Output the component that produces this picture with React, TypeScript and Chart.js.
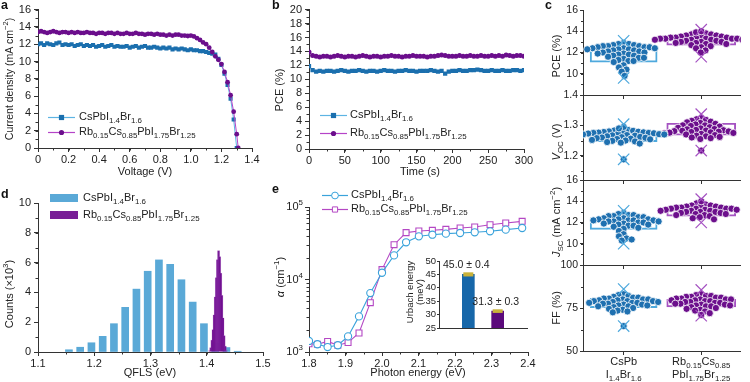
import React, { useEffect, useRef } from 'react';
import { Chart, registerables } from 'chart.js';
Chart.register(...registerables);

const FONT = '"Liberation Sans", Arial, Helvetica, sans-serif';
const AX = '#333';
const TXT = '#222';

const CS_MARK = '#1b6fae';
const CS_LINE = '#5db4e3';
const RB_MARK = '#6b0e8c';
const RB_LINE = '#b544c8';
const E_CS = '#3aa3db';
const E_RB = '#b448c4';
const C_CS_DOT = '#1f70b0';
const C_CS_BOX = '#4ea9dd';
const C_RB_DOT = '#6c0f8c';
const C_RB_BOX = '#a553c2';
const D_CS = '#5aa9d7';
const D_RB = 'rgba(110,11,142,0.92)';
const I_CS = '#1767a9';
const I_RB = '#5b0a7b';
const ERR = '#c9b23a';

const LBL_CS = 'CsPbI_{1.4}Br_{1.6}';
const LBL_RB = 'Rb_{0.15}Cs_{0.85}PbI_{1.75}Br_{1.25}';

// ---------- panel a : J-V ----------
const jvVoltCs = [0, 0.02, 0.04, 0.06, 0.08, 0.1, 0.12, 0.14, 0.16, 0.18, 0.2, 0.22, 0.24, 0.26, 0.28, 0.3, 0.32, 0.34, 0.36, 0.38, 0.4, 0.42, 0.44, 0.46, 0.48, 0.5, 0.52, 0.54, 0.56, 0.58, 0.6, 0.62, 0.64, 0.66, 0.68, 0.7, 0.72, 0.74, 0.76, 0.78, 0.8, 0.82, 0.84, 0.86, 0.88, 0.9, 0.92, 0.94, 0.96, 0.98, 1.0, 1.02, 1.04, 1.06, 1.08, 1.1, 1.12, 1.14, 1.16, 1.18, 1.2, 1.22, 1.24, 1.26, 1.28, 1.3];
const jvCurrCs = [12.0, 12.1, 11.9, 12.1, 12.0, 11.9, 12.1, 12.2, 11.9, 12.0,
  11.9, 12.0, 11.8, 11.9, 12.0, 11.8, 11.9, 11.8, 11.9, 11.7,
  11.8, 11.9, 11.7, 11.8, 11.9, 11.7, 11.8, 11.7, 11.7, 11.8,
  11.6, 11.7, 11.8, 11.6, 11.7, 11.8, 11.6, 11.6, 11.7, 11.6,
  11.5, 11.6, 11.5, 11.6, 11.4, 11.5, 11.4, 11.5, 11.4, 11.3,
  11.4, 11.3, 11.3, 11.2, 11.2, 11.1, 11.0, 10.9, 10.8, 10.3,
  9.6, 8.6, 7.3, 5.7, 3.3, 0.0];
const jvVoltRb = [0, 0.02, 0.04, 0.06, 0.08, 0.1, 0.12, 0.14, 0.16, 0.18, 0.2, 0.22, 0.24, 0.26, 0.28, 0.3, 0.32, 0.34, 0.36, 0.38, 0.4, 0.42, 0.44, 0.46, 0.48, 0.5, 0.52, 0.54, 0.56, 0.58, 0.6, 0.62, 0.64, 0.66, 0.68, 0.7, 0.72, 0.74, 0.76, 0.78, 0.8, 0.82, 0.84, 0.86, 0.88, 0.9, 0.92, 0.94, 0.96, 0.98, 1.0, 1.02, 1.04, 1.06, 1.08, 1.1, 1.12, 1.14, 1.16, 1.18, 1.2, 1.22, 1.24, 1.26, 1.28, 1.3, 1.31];
const jvCurrRb = [13.4, 13.5, 13.4, 13.3, 13.4, 13.5, 13.4, 13.3, 13.4, 13.4,
  13.3, 13.4, 13.3, 13.4, 13.3, 13.3, 13.4, 13.3, 13.3, 13.2,
  13.3, 13.3, 13.2, 13.3, 13.3, 13.2, 13.3, 13.2, 13.2, 13.3,
  13.2, 13.2, 13.3, 13.2, 13.2, 13.1, 13.2, 13.2, 13.1, 13.2,
  13.1, 13.1, 13.0, 13.1, 13.0, 13.1, 13.1, 13.0, 13.0, 12.95,
  13.0, 12.9, 12.7, 12.5, 12.2, 12.0, 11.6, 11.1, 10.6, 10.2,
  9.7, 8.8, 7.6, 6.1, 4.2, 1.6, 0.0];
const aXTicks = [0, 0.2, 0.4, 0.6, 0.8, 1.0, 1.2, 1.4];
const aYTicks = [0, 2, 4, 6, 8, 10, 12, 14, 16];

// ---------- panel b : stabilised PCE ----------
const timeS = [0, 5, 10, 15, 20, 25, 30, 35, 40, 45, 50, 55, 60, 65, 70, 75, 80, 85, 90, 95, 100, 105, 110, 115, 120, 125, 130, 135, 140, 145, 150, 155, 160, 165, 170, 175, 180, 185, 190, 195, 200, 205, 210, 215, 220, 225, 230, 235, 240, 245, 250, 255, 260, 265, 270, 275, 280, 285, 290, 295, 300];
const spoCs = [11.9, 11.3, 11.1, 11.2, 11.1, 11.2, 11.2, 11.1, 11.2, 11.3,
  11.2, 11.1, 11.2, 11.2, 11.3, 11.2, 11.1, 11.2, 11.2, 11.1,
  11.2, 11.3, 11.2, 11.2, 11.1, 11.2, 11.2, 11.3, 11.2, 11.2,
  11.1, 11.2, 11.2, 11.2, 11.3, 11.2, 11.1, 11.2, 10.8, 11.1,
  11.2, 11.2, 11.3, 11.2, 11.2, 11.3, 11.3, 11.4, 11.3, 11.2,
  11.2, 11.3, 11.2, 11.2, 11.3, 11.2, 11.2, 11.3, 11.3, 11.2,
  11.3];
const spoRb = [13.9, 13.4, 13.3, 13.2, 13.3, 13.3, 13.2, 13.3, 13.4, 13.3,
  13.2, 13.3, 13.3, 13.2, 13.3, 13.4, 13.3, 13.2, 13.3, 13.3,
  13.2, 13.3, 13.3, 13.4, 13.3, 13.3, 13.2, 13.3, 13.3, 13.4,
  13.3, 13.3, 13.3, 13.2, 13.3, 13.3, 13.4, 13.5, 13.4, 13.3,
  13.3, 13.3, 13.4, 13.3, 13.3, 13.4, 13.3, 13.3, 13.4, 13.3,
  13.3, 13.4, 13.3, 13.4, 13.3, 13.5, 13.4, 13.3, 13.4, 13.4,
  13.3];
const bXTicks = [0, 50, 100, 150, 200, 250, 300];
const bYTicks = [0, 2, 4, 6, 8, 10, 12, 14, 16, 18, 20];

// ---------- panel c : device statistics ----------
const cCats = ['CsPbI1.4Br1.6', 'Rb0.15Cs0.85PbI1.75Br1.25'];
const pceCs = [12.9, 12.8, 12.8, 12.7, 12.7, 12.6, 12.6, 12.6, 12.5, 12.5, 12.5, 12.4, 12.4, 12.4, 12.3, 12.3, 12.3, 12.2, 12.2, 12.1, 12.1, 12.0, 12.0, 11.9, 11.9, 11.8, 11.8, 11.7, 11.7, 11.6, 11.5, 11.5, 11.4, 11.3, 11.2, 11.2, 11.1, 10.8, 10.6, 10.4, 10.2, 9.8];
const pceRb = [13.8, 13.7, 13.7, 13.6, 13.6, 13.5, 13.5, 13.5, 13.4, 13.4, 13.4, 13.4, 13.3, 13.3, 13.3, 13.3, 13.3, 13.2, 13.2, 13.2, 13.2, 13.1, 13.1, 13.1, 13.0, 13.0, 13.0, 12.9, 12.9, 12.8, 12.8, 12.7, 12.6, 12.5, 12.4, 12.2, 12.0, 13.9, 14.0];
const pceBoxCs = [11.1, 12.6];
const pceBoxRb = [12.7, 13.5];
const pceExtCs = [9.6, 13.1];
const pceExtRb = [11.6, 14.15];

const vocCs = [1.285, 1.283, 1.282, 1.28, 1.279, 1.278, 1.278, 1.277, 1.276, 1.275, 1.275, 1.274, 1.273, 1.272, 1.271, 1.27, 1.27, 1.268, 1.267, 1.266, 1.265, 1.264, 1.262, 1.261, 1.26, 1.259, 1.258, 1.256, 1.255, 1.254, 1.252, 1.25, 1.249, 1.247, 1.245, 1.243, 1.24, 1.295, 1.29, 1.188];
const vocRb = [1.325, 1.32, 1.318, 1.315, 1.312, 1.31, 1.308, 1.305, 1.303, 1.3, 1.3, 1.298, 1.296, 1.294, 1.292, 1.29, 1.288, 1.287, 1.285, 1.284, 1.283, 1.282, 1.281, 1.28, 1.279, 1.278, 1.277, 1.276, 1.275, 1.274, 1.272, 1.27, 1.268, 1.266, 1.264, 1.262, 1.26, 1.258, 1.255, 1.217];
const vocBoxCs = [1.246, 1.281];
const vocBoxRb = [1.268, 1.307];
const vocExtCs = [1.188, 1.304];
const vocExtRb = [1.217, 1.337];

const jscCs = [12.9, 12.8, 12.7, 12.7, 12.6, 12.6, 12.5, 12.5, 12.4, 12.4, 12.3, 12.3, 12.3, 12.2, 12.2, 12.2, 12.2, 12.1, 12.1, 12.1, 12.0, 12.0, 11.9, 11.9, 11.8, 11.8, 11.7, 11.7, 11.6, 11.5, 11.4, 11.2, 10.9, 10.7, 10.5, 10.4, 10.3];
const jscRb = [13.8, 13.7, 13.6, 13.6, 13.5, 13.5, 13.5, 13.4, 13.4, 13.4, 13.3, 13.3, 13.3, 13.3, 13.2, 13.2, 13.2, 13.1, 13.1, 13.1, 13.0, 13.0, 13.0, 12.9, 12.9, 12.8, 12.8, 12.7, 12.7, 12.6, 12.5, 12.4, 12.3, 14.0];
const jscBoxCs = [11.35, 12.45];
const jscBoxRb = [12.6, 13.5];
const jscExtCs = [10.0, 13.1];
const jscExtRb = [12.0, 14.2];

const ffCs = [83, 82.5, 82, 81.5, 81, 81, 80.5, 80.5, 80, 80, 80, 79.5, 79.5, 79, 79, 79, 78.5, 78.5, 78, 78, 78, 77.5, 77.5, 77, 77, 76.5, 76.5, 76, 76, 75.5, 75, 74.5, 74, 73.5, 73, 72.5, 64.5];
const ffRb = [83, 82.5, 82, 82, 81.5, 81.5, 81, 81, 80.5, 80.5, 80, 80, 80, 79.5, 79.5, 79, 79, 78.5, 78.5, 78, 78, 77.5, 77.5, 77, 77, 76.5, 76.5, 76, 76, 75.5, 75, 74.5, 74, 73.5, 73, 72, 71];
const ffBoxCs = [75.2, 80.6];
const ffBoxRb = [75.7, 80.0];
const ffExtCs = [64.5, 86];
const ffExtRb = [70.5, 85.5];

const pceTicks = [8, 10, 12, 14, 16];
const vocTicks = [1.2, 1.3, 1.4];
const jscTicks = [8, 10, 12, 14, 16];
const ffTicks = [50, 75, 100];

// ---------- panel d : QFLS histogram ----------
const qflsCsBins = [1.155, 1.175, 1.195, 1.215, 1.235, 1.255, 1.275, 1.295, 1.315, 1.335, 1.355, 1.375, 1.395, 1.415, 1.435, 1.455];
const qflsCsCounts = [0.15, 0.32, 0.62, 1.05, 1.9, 3.0, 4.22, 5.42, 6.18, 5.88, 4.85, 3.35, 1.9, 0.6, 0.3, 0.05];
const qflsRbBins = [1.405, 1.407, 1.409, 1.411, 1.413, 1.415, 1.417, 1.419, 1.421, 1.423, 1.425, 1.427, 1.429, 1.431, 1.433, 1.435];
const qflsRbCounts = [0.1, 0.3, 0.8, 1.5, 2.5, 3.7, 5.0, 6.2, 6.8, 6.4, 5.3, 3.8, 2.3, 1.1, 0.4, 0.1];
const dXTicks = [1.1, 1.2, 1.3, 1.4, 1.5];
const dYTicks = [0, 2, 4, 6, 8, 10];

// ---------- panel e : absorption ----------
const absEnergy = [1.8, 1.823, 1.851, 1.879, 1.907, 1.937, 1.968, 2.0, 2.033, 2.066, 2.101, 2.138, 2.175, 2.214, 2.254, 2.296, 2.339, 2.384];
const absCs = [1420, 1280, 1170, 1240, 1640, 3100, 6500, 12400, 21500, 32600, 39400, 41500, 42900, 43800, 44800, 46200, 48700, 51300];
const absRb = [1300, 1280, 1400, 1240, 1350, 1830, 4790, 13700, 30200, 44300, 46700, 47700, 49200, 51300, 53000, 57000, 60100, 63400];
const eXTicks = [1.8, 1.9, 2.0, 2.1, 2.2, 2.3, 2.4];
const eYTicks = [1000, 10000, 100000];

// inset : Urbach energy
const urbachVals = [45.0, 31.3];
const urbachErr = [0.4, 0.3];
const urbachTicks = [25, 30, 35, 40, 45, 50];

// ---------- helpers ----------
type Seg = { t: string; k: number; it: boolean };
function parseRich(s: string): Seg[] {
  const out: Seg[] = [];
  let buf = '';
  let it = false;
  let i = 0;
  const push = () => { if (buf) { out.push({ t: buf, k: 0, it }); buf = ''; } };
  while (i < s.length) {
    const ch = s[i];
    if ((ch === '_' || ch === '^') && s[i + 1] === '{') {
      push();
      const end = s.indexOf('}', i + 2);
      out.push({ t: s.slice(i + 2, end), k: ch === '_' ? 1 : 2, it: false });
      i = end + 1;
      continue;
    }
    if (ch === '*') { push(); it = !it; i++; continue; }
    buf += ch;
    i++;
  }
  push();
  return out;
}

function rich(ctx: CanvasRenderingContext2D, s: string, x: number, y: number, o: any = {}) {
  const size = o.size ?? 11;
  const segs = parseRich(s);
  const fontOf = (sg: Seg) => `${sg.it ? 'italic ' : ''}${o.bold ? 'bold ' : ''}${sg.k ? size * 0.72 : size}px ${FONT}`;
  const ws: number[] = [];
  let w = 0;
  for (const sg of segs) { ctx.font = fontOf(sg); const m = ctx.measureText(sg.t).width; ws.push(m); w += m; }
  ctx.save();
  ctx.translate(x, y);
  if (o.rot) ctx.rotate(o.rot);
  ctx.fillStyle = o.color ?? TXT;
  ctx.textBaseline = 'middle';
  ctx.textAlign = 'left';
  let cx = o.align === 'center' ? -w / 2 : o.align === 'right' ? -w : 0;
  segs.forEach((sg, i) => {
    ctx.font = fontOf(sg);
    const dy = sg.k === 1 ? size * 0.32 : sg.k === 2 ? -size * 0.36 : 0;
    ctx.fillText(sg.t, cx, dy);
    cx += ws[i];
  });
  ctx.restore();
}

function letter(ctx: CanvasRenderingContext2D, t: string, x: number, y: number) {
  rich(ctx, t, x, y, { bold: true, size: 12.5, color: '#111' });
}

function minorTicks(c: any, id: string, step: number, len = 2.5) {
  const s = c.scales[id];
  const ctx = c.ctx as CanvasRenderingContext2D;
  const start = Math.ceil(s.min / step - 1e-9);
  const end = Math.floor(s.max / step + 1e-9);
  ctx.save();
  ctx.strokeStyle = AX;
  ctx.lineWidth = 1;
  ctx.beginPath();
  for (let k = start; k <= end; k++) {
    const p = Math.round(s.getPixelForValue(k * step)) + 0.5;
    if (s.isHorizontal()) { ctx.moveTo(p, s.top); ctx.lineTo(p, s.top + len); }
    else { ctx.moveTo(s.right, p); ctx.lineTo(s.right - len, p); }
  }
  ctx.stroke();
  ctx.restore();
}

function logMinor(c: any, id: string, len = 2.5) {
  const s = c.scales[id];
  const ctx = c.ctx as CanvasRenderingContext2D;
  ctx.save();
  ctx.strokeStyle = AX;
  ctx.lineWidth = 1;
  ctx.beginPath();
  for (let dec = s.min; dec < s.max; dec *= 10) {
    for (let m = 2; m <= 9; m++) {
      const p = Math.round(s.getPixelForValue(m * dec)) + 0.5;
      ctx.moveTo(s.right, p); ctx.lineTo(s.right - len, p);
    }
  }
  ctx.stroke();
  ctx.restore();
}

function legendRow(ctx: CanvasRenderingContext2D, x1: number, x2: number, y: number, line: string, mark: string, shape: string, open: boolean, text: string, tx: number) {
  ctx.save();
  ctx.strokeStyle = line;
  ctx.lineWidth = 1.2;
  ctx.beginPath();
  ctx.moveTo(x1, y + 0.5); ctx.lineTo(x2, y + 0.5);
  ctx.stroke();
  const mx = (x1 + x2) / 2;
  ctx.fillStyle = open ? '#fff' : mark;
  ctx.strokeStyle = mark;
  ctx.lineWidth = 1;
  ctx.beginPath();
  if (shape === 'rect') ctx.rect(mx - 2.6, y - 2.1, 5.2, 5.2);
  else ctx.arc(mx, y + 0.5, open ? 3.4 : 2.6, 0, Math.PI * 2);
  ctx.fill();
  if (open) ctx.stroke();
  ctx.restore();
  rich(ctx, text, tx, y, {});
}

function swarm(values: number[], ppu: number, ppc: number, d = 5.2): number[] {
  const order = values.map((_, i) => i).sort((a, b) => values[b] - values[a]);
  const placed: number[][] = [];
  const out = values.map(() => 0);
  for (const i of order) {
    const y = values[i] * ppu;
    let chosen = 0;
    for (let k = 0; k < 600; k++) {
      const cand = k === 0 ? 0 : (k % 2 ? -1 : 1) * Math.ceil(k / 2) * 0.5;
      let ok = true;
      for (const p of placed) {
        const dx = p[0] - cand;
        const dy = p[1] - y;
        if (dx * dx + dy * dy < d * d) { ok = false; break; }
      }
      if (ok) { chosen = cand; break; }
    }
    placed.push([chosen, y]);
    out[i] = chosen / ppc;
  }
  return out;
}

const W = 750;
const H = 382;
function pad(L: number, T: number, R: number, B: number, yW: number, xH: number) {
  return { left: L - yW, top: T, right: W - R, bottom: H - B - xH };
}

function linAxis(min: number, max: number, ticks: number[], fmt: (v: number) => string, fixed: number, horizontal: boolean, extra: any = {}) {
  const fs = extra.fontSize ?? 11;
  return {
    type: extra.type ?? 'linear',
    min, max, offset: false,
    afterBuildTicks: (s: any) => { s.ticks = ticks.map((v) => ({ value: v })); },
    afterFit: (s: any) => { if (horizontal) s.height = fixed; else s.width = fixed; },
    ticks: {
      callback: (v: any) => fmt(Number(v)),
      padding: extra.padding ?? (horizontal ? 1 : 3),
      color: TXT,
      font: { size: fs, family: FONT },
      autoSkip: false,
      maxRotation: 0,
      display: extra.showLabels ?? true,
    },
    grid: { display: extra.showTicks ?? true, drawOnChartArea: false, drawTicks: true, tickLength: extra.tickLength ?? 4, color: AX, offset: false },
    border: { display: true, color: AX, width: 1 },
  };
}

const baseOpts = {
  animation: false,
  responsive: false,
  devicePixelRatio: 1,
  events: [],
  plugins: { legend: { display: false }, tooltip: { enabled: false } },
};

const fmt1 = (v: number) => v.toFixed(1);
const fmtA = (v: number) => (v === 0 ? '0' : v.toFixed(1));
const fmtInt = (v: number) => String(Math.round(v));

function zip(xs: number[], ys: number[]) { return xs.map((x, i) => ({ x, y: ys[i] })); }

function configA() {
  return {
    type: 'scatter',
    data: {
      datasets: [
        { data: zip(jvVoltRb, jvCurrRb), showLine: true, borderColor: RB_LINE, borderWidth: 1, pointStyle: 'circle', pointRadius: 2.4, pointBackgroundColor: RB_MARK, pointBorderColor: RB_MARK, pointBorderWidth: 0, order: 0 },
        { data: zip(jvVoltCs, jvCurrCs), showLine: true, borderColor: CS_LINE, borderWidth: 1, pointStyle: 'rect', pointRadius: 2.9, pointBackgroundColor: CS_MARK, pointBorderColor: CS_MARK, pointBorderWidth: 0, order: 1 },
      ],
    },
    options: {
      ...baseOpts,
      layout: { padding: pad(38, 7, 252, 148, 30, 30) },
      scales: { x: linAxis(0, 1.4, aXTicks, fmtA, 30, true), y: linAxis(0, 16, aYTicks, fmtInt, 30, false) },
    },
    plugins: [{
      id: 'pa', afterDraw(c: any) {
        const ctx = c.ctx;
        minorTicks(c, 'x', 0.1); minorTicks(c, 'y', 1);
        letter(ctx, 'a', 1, 6);
        rich(ctx, 'Voltage (V)', 145, 172, { align: 'center' });
        rich(ctx, 'Current density (mA cm^{−2})', 10, 79, { align: 'center', rot: -Math.PI / 2, size: 10.5 });
        legendRow(ctx, 48, 75, 117, CS_LINE, CS_MARK, 'rect', false, LBL_CS, 79);
        legendRow(ctx, 48, 75, 132, RB_LINE, RB_MARK, 'circle', false, LBL_RB, 79);
      },
    }],
  };
}

function configB() {
  return {
    type: 'scatter',
    data: {
      datasets: [
        { data: zip(timeS, spoRb), showLine: true, borderColor: RB_LINE, borderWidth: 1, pointStyle: 'circle', pointRadius: 2.5, pointBackgroundColor: RB_MARK, pointBorderColor: RB_MARK, pointBorderWidth: 0, order: 0 },
        { data: zip(timeS, spoCs), showLine: true, borderColor: CS_LINE, borderWidth: 1, pointStyle: 'rect', pointRadius: 3.0, pointBackgroundColor: CS_MARK, pointBorderColor: CS_MARK, pointBorderWidth: 0, order: 1 },
      ],
    },
    options: {
      ...baseOpts,
      layout: { padding: pad(309, 7, 524, 149, 30, 30) },
      scales: { x: linAxis(0, 300, bXTicks, fmtInt, 30, true), y: linAxis(0, 20, bYTicks, fmtInt, 30, false) },
    },
    plugins: [{
      id: 'pb', afterDraw(c: any) {
        const ctx = c.ctx;
        minorTicks(c, 'x', 25); minorTicks(c, 'y', 1);
        letter(ctx, 'b', 272, 6);
        rich(ctx, 'Time (s)', 420, 172, { align: 'center' });
        rich(ctx, 'PCE (%)', 280, 90, { align: 'center', rot: -Math.PI / 2 });
        legendRow(ctx, 320, 347, 115, CS_LINE, CS_MARK, 'rect', false, LBL_CS, 350);
        legendRow(ctx, 320, 347, 133, RB_LINE, RB_MARK, 'circle', false, LBL_RB, 350);
      },
    }],
  };
}

const C_XMIN = -0.524;
const C_XMAX = 1.51;
const C_PPC = 167 / (C_XMAX - C_XMIN);

function configC(p: any) {
  const ppu = (p.bottom - p.top) / (p.max - p.min);
  const offCs = swarm(p.cs, ppu, C_PPC);
  const offRb = swarm(p.rb, ppu, C_PPC);
  const iCs = 0;
  const iRb = 1;
  return {
    type: 'scatter',
    data: {
      datasets: [
        { type: 'scatter', label: cCats[iCs], data: p.csExt.map((v: number) => ({ x: iCs, y: v })), pointStyle: 'crossRot', pointRadius: 8, pointBorderColor: C_CS_BOX, pointBorderWidth: 1.2, order: 1 },
        { type: 'scatter', label: cCats[iRb], data: p.rbExt.map((v: number) => ({ x: iRb, y: v })), pointStyle: 'crossRot', pointRadius: 8, pointBorderColor: C_RB_BOX, pointBorderWidth: 1.2, order: 1 },
        { type: 'scatter', data: p.cs.map((v: number, i: number) => ({ x: iCs + offCs[i], y: v })), pointRadius: 3.6, pointBackgroundColor: C_CS_DOT, pointBorderColor: 'rgba(255,255,255,0.9)', pointBorderWidth: 0.9, order: 2 },
        { type: 'scatter', data: p.rb.map((v: number, i: number) => ({ x: iRb + offRb[i], y: v })), pointRadius: 3.6, pointBackgroundColor: C_RB_DOT, pointBorderColor: 'rgba(255,255,255,0.9)', pointBorderWidth: 0.9, order: 2 },
        { type: 'bar', data: [{ x: iCs, y: p.csBox }], backgroundColor: 'rgba(0,0,0,0)', borderColor: C_CS_BOX, borderWidth: 1.3, borderSkipped: false, barThickness: 67, grouped: false, order: 3 },
        { type: 'bar', data: [{ x: iRb, y: p.rbBox }], backgroundColor: 'rgba(0,0,0,0)', borderColor: C_RB_BOX, borderWidth: 1.3, borderSkipped: false, barThickness: 69, grouped: false, order: 3 },
      ],
    },
    options: {
      ...baseOpts,
      layout: { padding: pad(583, p.top, 750, p.bottom, 30, 6) },
      scales: {
        x: linAxis(C_XMIN, C_XMAX, [iCs, iRb], () => '', 6, true, { showLabels: false }),
        y: linAxis(p.min, p.max, p.ticks, p.fmt, 30, false, { tickLength: 3, padding: 2, fontSize: 10.5 }),
      },
    },
    plugins: [{
      id: 'pc' + p.top, afterDraw(c: any) {
        const ctx = c.ctx;
        minorTicks(c, 'y', p.minor, 2);
        rich(ctx, p.title, 557, p.titleY, { align: 'center', rot: -Math.PI / 2 });
        if (p.letter) letter(ctx, 'c', 545, 6);
        if (p.bottomLabels) {
          const x0 = c.scales.x.getPixelForValue(iCs);
          const x1 = c.scales.x.getPixelForValue(iRb);
          rich(ctx, 'CsPb', x0, 362, { align: 'center' });
          rich(ctx, 'I_{1.4}Br_{1.6}', x0, 375, { align: 'center' });
          rich(ctx, 'Rb_{0.15}Cs_{0.85}', x1, 362, { align: 'center' });
          rich(ctx, 'PbI_{1.75}Br_{1.25}', x1, 375, { align: 'center' });
        }
      },
    }],
  };
}

function configD() {
  return {
    type: 'bar',
    data: {
      datasets: [
        { data: zip(qflsRbBins, qflsRbCounts), backgroundColor: D_RB, borderColor: 'rgba(160,80,190,0.5)', borderWidth: 0.5, barThickness: 2.2, grouped: false, order: 0 },
        { data: zip(qflsCsBins, qflsCsCounts), backgroundColor: D_CS, barThickness: 7, grouped: false, order: 1 },
      ],
    },
    options: {
      ...baseOpts,
      layout: { padding: pad(38, 203, 263, 352, 30, 30) },
      scales: { x: linAxis(1.1, 1.5, dXTicks, fmt1, 30, true), y: linAxis(0, 10, dYTicks, fmtInt, 30, false) },
    },
    plugins: [{
      id: 'pd', afterDraw(c: any) {
        const ctx = c.ctx;
        minorTicks(c, 'x', 0.05); minorTicks(c, 'y', 1);
        letter(ctx, 'd', 1, 195);
        rich(ctx, 'QFLS (eV)', 150, 373, { align: 'center' });
        rich(ctx, 'Counts (×10^{3})', 10, 294, { align: 'center', rot: -Math.PI / 2 });
        ctx.fillStyle = D_CS; ctx.fillRect(50, 194, 28, 8);
        rich(ctx, LBL_CS, 83, 198, {});
        ctx.fillStyle = D_RB; ctx.fillRect(50, 211, 28, 8);
        rich(ctx, LBL_RB, 83, 215, {});
      },
    }],
  };
}

function configE() {
  return {
    type: 'scatter',
    data: {
      datasets: [
        { data: zip(absEnergy, absCs), showLine: true, borderColor: E_CS, borderWidth: 1.1, pointStyle: 'circle', pointRadius: 3.6, pointBackgroundColor: '#fff', pointBorderColor: E_CS, pointBorderWidth: 1.1, order: 0 },
        { data: zip(absEnergy, absRb), showLine: true, borderColor: E_RB, borderWidth: 1.1, pointStyle: 'rect', pointRadius: 4.2, pointBackgroundColor: '#fff', pointBorderColor: E_RB, pointBorderWidth: 1.1, order: 1 },
      ],
    },
    options: {
      ...baseOpts,
      layout: { padding: pad(309, 207, 528, 352, 30, 30) },
      scales: {
        x: linAxis(1.8, 2.4, eXTicks, fmt1, 30, true),
        y: linAxis(1000, 100000, eYTicks, () => '', 30, false, { type: 'logarithmic' }),
      },
    },
    plugins: [{
      id: 'pe', afterDraw(c: any) {
        const ctx = c.ctx;
        minorTicks(c, 'x', 0.05); logMinor(c, 'y');
        const ys = c.scales.y;
        eYTicks.forEach((v) => {
          rich(ctx, '10^{' + Math.round(Math.log10(v)) + '}', ys.right - 6, ys.getPixelForValue(v), { align: 'right' });
        });
        letter(ctx, 'e', 272, 190);
        rich(ctx, 'Photon energy (eV)', 418, 373, { align: 'center' });
        rich(ctx, '*α* (cm^{−1})', 281, 277, { align: 'center', rot: -Math.PI / 2 });
        legendRow(ctx, 322, 348, 195, E_CS, E_CS, 'circle', true, LBL_CS, 351);
        legendRow(ctx, 322, 348, 209, E_RB, E_RB, 'rect', true, LBL_RB, 351);
      },
    }],
  };
}

function configInset() {
  return {
    type: 'bar',
    data: {
      datasets: [
        { data: urbachVals.map((v, i) => ({ x: i + 1, y: v })), backgroundColor: [I_CS, I_RB], barThickness: 12, grouped: false },
      ],
    },
    options: {
      ...baseOpts,
      layout: { padding: pad(439, 261, 527, 328, 25, 4) },
      scales: {
        x: linAxis(0, 3, [1, 2], () => '', 4, true, { showLabels: false, showTicks: false }),
        y: linAxis(25, 50, urbachTicks, fmtInt, 25, false, { fontSize: 9.5, tickLength: 2, padding: 1 }),
      },
    },
    plugins: [{
      id: 'pi', afterDraw(c: any) {
        const ctx = c.ctx;
        const xs = c.scales.x;
        const ys = c.scales.y;
        urbachVals.forEach((v, i) => {
          const px = xs.getPixelForValue(i + 1);
          const yTop = ys.getPixelForValue(v + urbachErr[i]);
          const yBot = ys.getPixelForValue(v - urbachErr[i]);
          ctx.fillStyle = ERR;
          ctx.fillRect(px - 5, yTop - 1, 10, yBot - yTop + 2);
          rich(ctx, `${v.toFixed(1)} ± ${urbachErr[i].toFixed(1)}`, px - 2, ys.getPixelForValue(v) - 9, { align: 'center', size: 10.5 });
        });
        rich(ctx, 'Urbach energy', 410, 292, { align: 'center', rot: -Math.PI / 2, size: 9.5 });
        rich(ctx, '(meV)', 420, 292, { align: 'center', rot: -Math.PI / 2, size: 9.5 });
      },
    }],
  };
}

function buildConfigs() {
  return [
    configA(),
    configB(),
    configC({ top: 10, bottom: 95, min: 8, max: 16, ticks: pceTicks, minor: 1, fmt: (v: number) => (v === 8 ? '' : fmtInt(v)), cs: pceCs, rb: pceRb, csBox: pceBoxCs, rbBox: pceBoxRb, csExt: pceExtCs, rbExt: pceExtRb, title: 'PCE (%)', titleY: 56, letter: true }),
    configC({ top: 95, bottom: 180, min: 1.12, max: 1.4, ticks: vocTicks, minor: 0.05, fmt: fmt1, cs: vocCs, rb: vocRb, csBox: vocBoxCs, rbBox: vocBoxRb, csExt: vocExtCs, rbExt: vocExtRb, title: '*V*_{OC} (V)', titleY: 142 }),
    configC({ top: 180, bottom: 265, min: 8, max: 16, ticks: jscTicks, minor: 1, fmt: (v: number) => (v === 8 ? '' : fmtInt(v)), cs: jscCs, rb: jscRb, csBox: jscBoxCs, rbBox: jscBoxRb, csExt: jscExtCs, rbExt: jscExtRb, title: '*J*_{SC} (mA cm^{−2})', titleY: 222 }),
    configC({ top: 265, bottom: 351, min: 50, max: 100, ticks: ffTicks, minor: 12.5, fmt: fmtInt, cs: ffCs, rb: ffRb, csBox: ffBoxCs, rbBox: ffBoxRb, csExt: ffExtCs, rbExt: ffExtRb, title: 'FF (%)', titleY: 308, bottomLabels: true }),
    configD(),
    configE(),
    configInset(),
  ];
}

const N = 9;

export default function App() {
  const refs = useRef<(HTMLCanvasElement | null)[]>([]);
  useEffect(() => {
    Chart.defaults.font.family = FONT;
    Chart.defaults.font.size = 11;
    Chart.defaults.color = TXT;
    const cfgs = buildConfigs();
    const charts = cfgs.map((cfg, i) => new Chart(refs.current[i] as HTMLCanvasElement, cfg as any));
    return () => { charts.forEach((c) => c.destroy()); };
  }, []);
  return (
    <div style={{ position: 'fixed', left: 0, top: 0, width: W, height: H, background: '#fff', overflow: 'hidden' }}>
      {Array.from({ length: N }).map((_, i) => (
        <canvas
          key={i}
          ref={(el) => { refs.current[i] = el; }}
          width={W}
          height={H}
          style={{ position: 'absolute', left: 0, top: 0, width: W, height: H }}
        />
      ))}
    </div>
  );
}
